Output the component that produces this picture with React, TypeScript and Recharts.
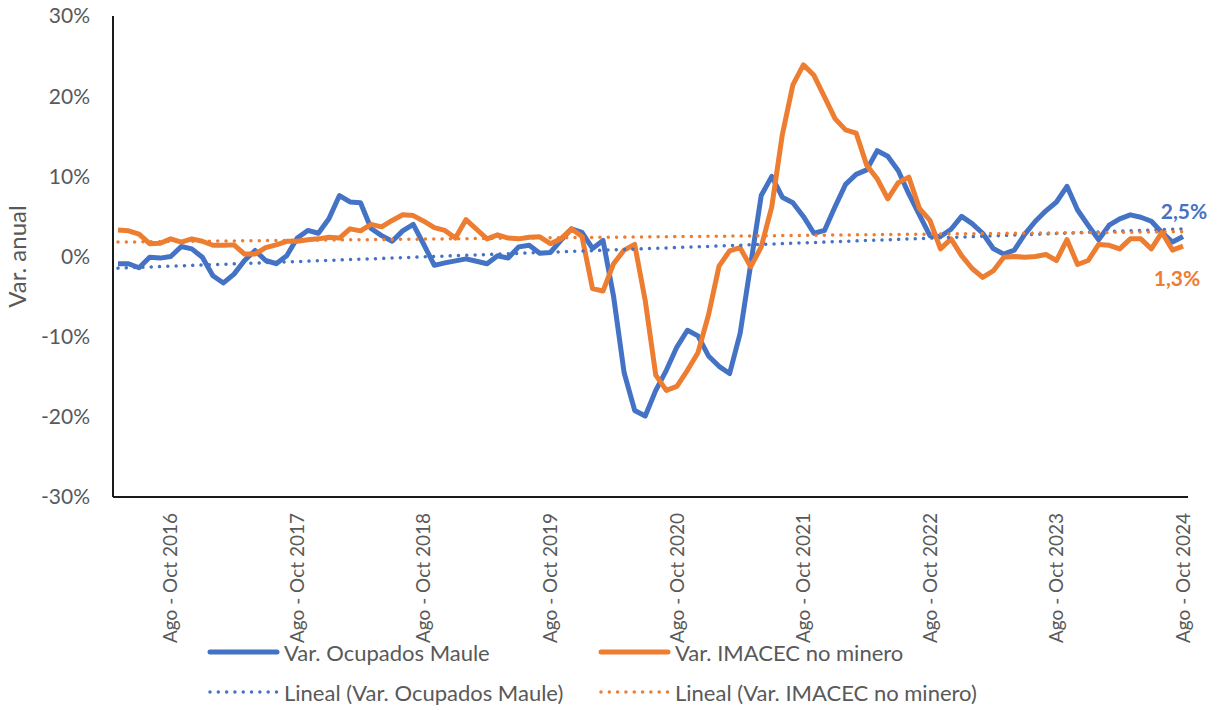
import { LabelList, Line, LineChart, XAxis, YAxis } from "recharts";

document.body.style.margin = "0";

const FONT = "Lato, 'Open Sans', sans-serif";
const GRIS = "#595959";
const AZUL = "#4472C4";
const NARANJA = "#ED7D31";

// trimestres móviles, desde Mar - May 2016 hasta Ago - Oct 2024
const mesesTrimestre = [
  "Ene - Mar", "Feb - Abr", "Mar - May", "Abr - Jun", "May - Jul", "Jun - Ago",
  "Jul - Sep", "Ago - Oct", "Sep - Nov", "Oct - Dic", "Nov - Ene", "Dic - Feb",
];
const anioInicio = 2016;
const mesInicio = 2;

// Var. Ocupados Maule (%)
const ocupadosMaule = [
  -0.9, -0.9, -1.4, -0.1, -0.2, 0.0, 1.25, 0.95, -0.1, -2.4, -3.3, -2.2,
  -0.5, 0.75, -0.5, -0.9, 0.1, 2.3, 3.25, 2.9, 4.7, 7.6, 6.8, 6.7,
  3.5, 2.6, 1.9, 3.2, 4.0, 1.5, -1.1, -0.8, -0.55, -0.3, -0.6, -0.9,
  0.1, -0.2, 1.2, 1.4, 0.4, 0.5, 2.0, 3.45, 3.0, 1.0, 2.0, -5.0,
  -14.5, -19.2, -19.9, -16.7, -14.2, -11.3, -9.2, -9.9, -12.4, -13.7, -14.6, -9.6,
  -1.0, 7.6, 10.0, 7.4, 6.7, 5.0, 2.9, 3.25, 6.2, 9.0, 10.25, 10.8,
  13.2, 12.5, 10.7, 7.8, 5.2, 2.6, 2.5, 3.4, 5.0, 4.1, 2.9, 1.0,
  0.3, 0.8, 2.8, 4.4, 5.7, 6.8, 8.75, 5.8, 3.9, 2.1, 3.9, 4.7,
  5.2, 4.9, 4.4, 3.0, 1.8, 2.5,
];

// Var. IMACEC no minero (%)
const imacecNoMinero = [
  3.3, 3.2, 2.8, 1.6, 1.65, 2.2, 1.8, 2.2, 1.9, 1.4, 1.4, 1.45,
  0.3, 0.3, 1.1, 1.45, 1.9, 1.9, 2.1, 2.2, 2.4, 2.3, 3.45, 3.2,
  4.0, 3.7, 4.5, 5.2, 5.1, 4.4, 3.6, 3.25, 2.3, 4.6, 3.4, 2.2,
  2.7, 2.3, 2.2, 2.4, 2.45, 1.6, 2.2, 3.45, 2.5, -4.0, -4.3, -0.9,
  0.8, 1.5, -5.5, -14.8, -16.7, -16.2, -14.2, -12.0, -7.3, -1.2, 0.7, 1.1,
  -1.3, 1.2, 6.2, 15.2, 21.4, 23.9, 22.6, 19.9, 17.2, 15.8, 15.4, 11.4,
  9.7, 7.2, 9.2, 9.9, 6.0, 4.5, 0.95, 2.2, 0.1, -1.5, -2.6, -1.8,
  -0.1, 0.0, -0.1, 0.0, 0.25, -0.5, 2.1, -1.0, -0.5, 1.5, 1.4, 0.95,
  2.2, 2.2, 0.95, 3.0, 0.8, 1.3,
];

// extremos de las tendencias lineales (primer y último trimestre)
const linealOcupados = [-1.45, 3.45];
const linealImacec = [1.8, 3.1];

const yTicks = [-30, -20, -10, 0, 10, 20, 30];

const periodos = ocupadosMaule.map((_, i) => {
  const k = mesInicio + i;
  return `${mesesTrimestre[k % 12]} ${anioInicio + Math.floor(k / 12)}`;
});
const ultimo = periodos.length - 1;

const data = periodos.map((periodo, i) => ({
  periodo,
  ocupados: ocupadosMaule[i],
  imacec: imacecNoMinero[i],
  linOcupados: i === 0 ? linealOcupados[0] : i === ultimo ? linealOcupados[1] : null,
  linImacec: i === 0 ? linealImacec[0] : i === ultimo ? linealImacec[1] : null,
}));

const fmt = (v: number) => `${v.toFixed(1).replace(".", ",")}%`;

function PeriodoTick({ x, y, payload }: any) {
  if (!String(payload.value).startsWith("Ago - Oct")) return <g />;
  const ty = y + 8;
  return (
    <text
      x={x}
      y={ty}
      dy="0.35em"
      transform={`rotate(-90 ${x} ${ty})`}
      textAnchor="end"
      fill={GRIS}
      fontSize={19}
      fontFamily={FONT}
    >
      {payload.value}
    </text>
  );
}

function UltimoLabel(color: string, dx: number, dy: number) {
  return (props: any) => {
    if (props.index !== ultimo) return null;
    return (
      <text
        x={props.x + dx}
        y={props.y + dy}
        textAnchor="middle"
        dominantBaseline="central"
        fill={color}
        fontSize={21}
        fontWeight={700}
        fontFamily={FONT}
      >
        {fmt(Number(props.value))}
      </text>
    );
  };
}

function LegendItem({ left, top, color, dotted, text }: any) {
  return (
    <div style={{ position: "absolute", left, top: top - 14, height: 28, display: "flex", alignItems: "center" }}>
      <svg width={74} height={28} style={{ display: "block" }}>
        {dotted ? (
          <line x1={3} y1={14} x2={70} y2={14} stroke={color} strokeWidth={3.5} strokeDasharray="0.01 8.3" strokeLinecap="round" />
        ) : (
          <line x1={3} y1={14} x2={70} y2={14} stroke={color} strokeWidth={5} strokeLinecap="round" />
        )}
      </svg>
      <span style={{ marginLeft: 3, color: GRIS, fontSize: 22, fontFamily: FONT, whiteSpace: "nowrap" }}>{text}</span>
    </div>
  );
}

export default function App() {
  return (
    <div style={{ position: "relative", width: 1221, height: 710, background: "#fff" }}>
      <LineChart width={1221} height={710} data={data} margin={{ top: 16, right: 33, bottom: 0, left: 0 }}>
        <XAxis
          dataKey="periodo"
          interval={0}
          height={213}
          padding={{ left: 5, right: 5 }}
          tickLine={false}
          axisLine={{ stroke: "#1a1a1a", strokeWidth: 2 }}
          tick={<PeriodoTick />}
        />
        <YAxis
          width={113}
          domain={[-30, 30]}
          ticks={yTicks}
          tickFormatter={(v) => `${v}%`}
          tickLine={false}
          tickMargin={17}
          axisLine={{ stroke: "#1a1a1a", strokeWidth: 2 }}
          tick={{ fill: GRIS, fontSize: 21, fontFamily: FONT }}
          label={{
            content: ({ viewBox }: any) => {
              const cx = viewBox.x + 18;
              const cy = viewBox.y + viewBox.height / 2;
              return (
                <text
                  x={cx}
                  y={cy}
                  dy="0.35em"
                  transform={`rotate(-90 ${cx} ${cy})`}
                  textAnchor="middle"
                  fill={GRIS}
                  fontSize={24}
                  fontFamily={FONT}
                >
                  Var. anual
                </text>
              );
            },
          }}
        />
        <Line
          dataKey="ocupados"
          stroke={AZUL}
          strokeWidth={5}
          strokeLinejoin="round"
          dot={false}
          isAnimationActive={false}
        >
          <LabelList dataKey="ocupados" content={UltimoLabel(AZUL, 1, -26)} />
        </Line>
        <Line
          dataKey="imacec"
          stroke={NARANJA}
          strokeWidth={5}
          strokeLinejoin="round"
          dot={false}
          isAnimationActive={false}
        >
          <LabelList dataKey="imacec" content={UltimoLabel(NARANJA, -6, 31)} />
        </Line>
        <Line
          dataKey="linOcupados"
          stroke={AZUL}
          strokeWidth={3.5}
          strokeDasharray="0.01 8.3"
          strokeLinecap="round"
          connectNulls
          dot={false}
          isAnimationActive={false}
        />
        <Line
          dataKey="linImacec"
          stroke={NARANJA}
          strokeWidth={3.5}
          strokeDasharray="0.01 8.3"
          strokeLinecap="round"
          connectNulls
          dot={false}
          isAnimationActive={false}
        />
      </LineChart>

      <LegendItem left={207} top={652} color={AZUL} text="Var. Ocupados Maule" />
      <LegendItem left={598} top={652} color={NARANJA} text="Var. IMACEC no minero" />
      <LegendItem left={207} top={692} color={AZUL} dotted text="Lineal (Var. Ocupados Maule)" />
      <LegendItem left={598} top={692} color={NARANJA} dotted text="Lineal (Var. IMACEC no minero)" />
    </div>
  );
}
